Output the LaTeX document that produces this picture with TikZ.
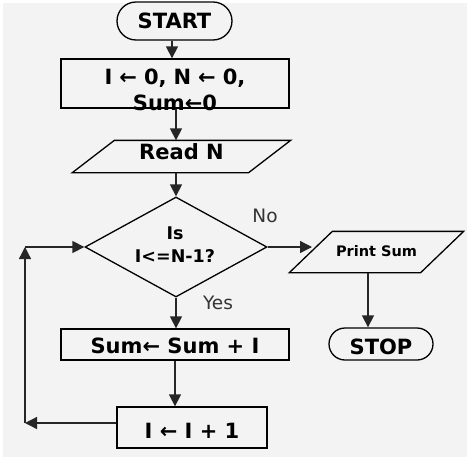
\documentclass[tikz,border=0pt]{standalone}
\usepackage{fontspec}
\setmainfont{DejaVu Sans}
\usetikzlibrary{arrows.meta,calc,shapes.geometric,shapes.misc}
\definecolor{bggray}{HTML}{F3F3F3}
\definecolor{lbl}{HTML}{333333}
\begin{document}
\begin{tikzpicture}[x=1pt,y=-1pt,
  line width=1.3pt,
  every node/.style={inner sep=0pt, font=\bfseries\fontsize{21}{26}\selectfont},
  term/.style={draw, rounded rectangle},
  procbox/.style={draw, rectangle},
  io/.style={rectangle},
  flow/.style={draw=black!85, -{Triangle[length=12pt,width=12pt]}},
  lab/.style={font=\fontsize{18.5}{22}\selectfont, text=lbl}
]
\useasboundingbox (0,0) rectangle (474,461);
\fill[bggray] (3,3) rectangle (467,457);

% nodes
\node[term, minimum width=115, minimum height=38, text height=26, text depth=12] (start) at (174.5,21) {START};
\node[procbox, minimum width=228, minimum height=49] (init) at (175,83.5) {};
\node[align=center] (inittext) at (175,89.5) {I\hspace{7pt}←\hspace{7pt}0,\hspace{7pt}N\hspace{7pt}←\hspace{7pt}0,\\Sum←0};

\node[io, minimum width=217, minimum height=31, text height=18, text depth=13] (read) at (181.5,156.5) {Read N};
\draw ($(read.north west)+(42,0)$) -- (read.north east) -- ($(read.south east)-(42,0)$) -- (read.south west) -- cycle;

\node[diamond, draw, minimum width=182, minimum height=100] (dec) at (176,247) {};
\node[align=center, font=\bfseries\fontsize{17.5}{23}\selectfont] (dectext) at (175,245) {Is\\I<=N-1?};

\node[io, minimum width=173, minimum height=40, text height=24, text depth=16,
      font=\bfseries\fontsize{14.5}{16}\selectfont] (print) at (376.5,252) {Print Sum\hspace{12pt}};
\draw ($(print.north west)+(43,0)$) -- (print.north east) -- ($(print.south east)-(43,0)$) -- (print.south west) -- cycle;

\node[term, minimum width=104, minimum height=32, text height=26, text depth=6] (stop) at (381,344) {STOP};

\node[procbox, minimum width=228, minimum height=31, text height=24, text depth=7] (sum) at (175,344.5) {Sum← Sum + I};
\node[procbox, minimum width=150, minimum height=41, text height=31, text depth=10] (inc) at (192,427.5) {I ← I + 1};

\node[lab] (no) at (265,216) {No};
\node[lab] (yes) at (218,303) {Yes};

\coordinate (lb) at (25,423);
\coordinate (lt) at (25,247);
\coordinate (pin) at (312,247);

% connectors
\draw[flow] (start.south -| 172,0) -- (init.north -| 172,0);
\draw[flow] (init.south -| 176,0) -- (read.north -| 176,0);
\draw[flow] (read.south -| 176,0) -- (dec.north);
\draw[flow] (dec.east) -- (pin);
\draw[flow] (print.south -| 368,0) -- (stop.north -| 368,0);
\draw[flow] (dec.south) -- (sum.north -| dec.south);
\draw[flow] (sum.south -| 175,0) -- (inc.north -| 175,0);
\draw[flow] (inc.west |- lb) -- (lb);
\draw[flow] (lb) -- (lt);
\draw[flow] (lt) -- (dec.west);
\end{tikzpicture}
\end{document}
